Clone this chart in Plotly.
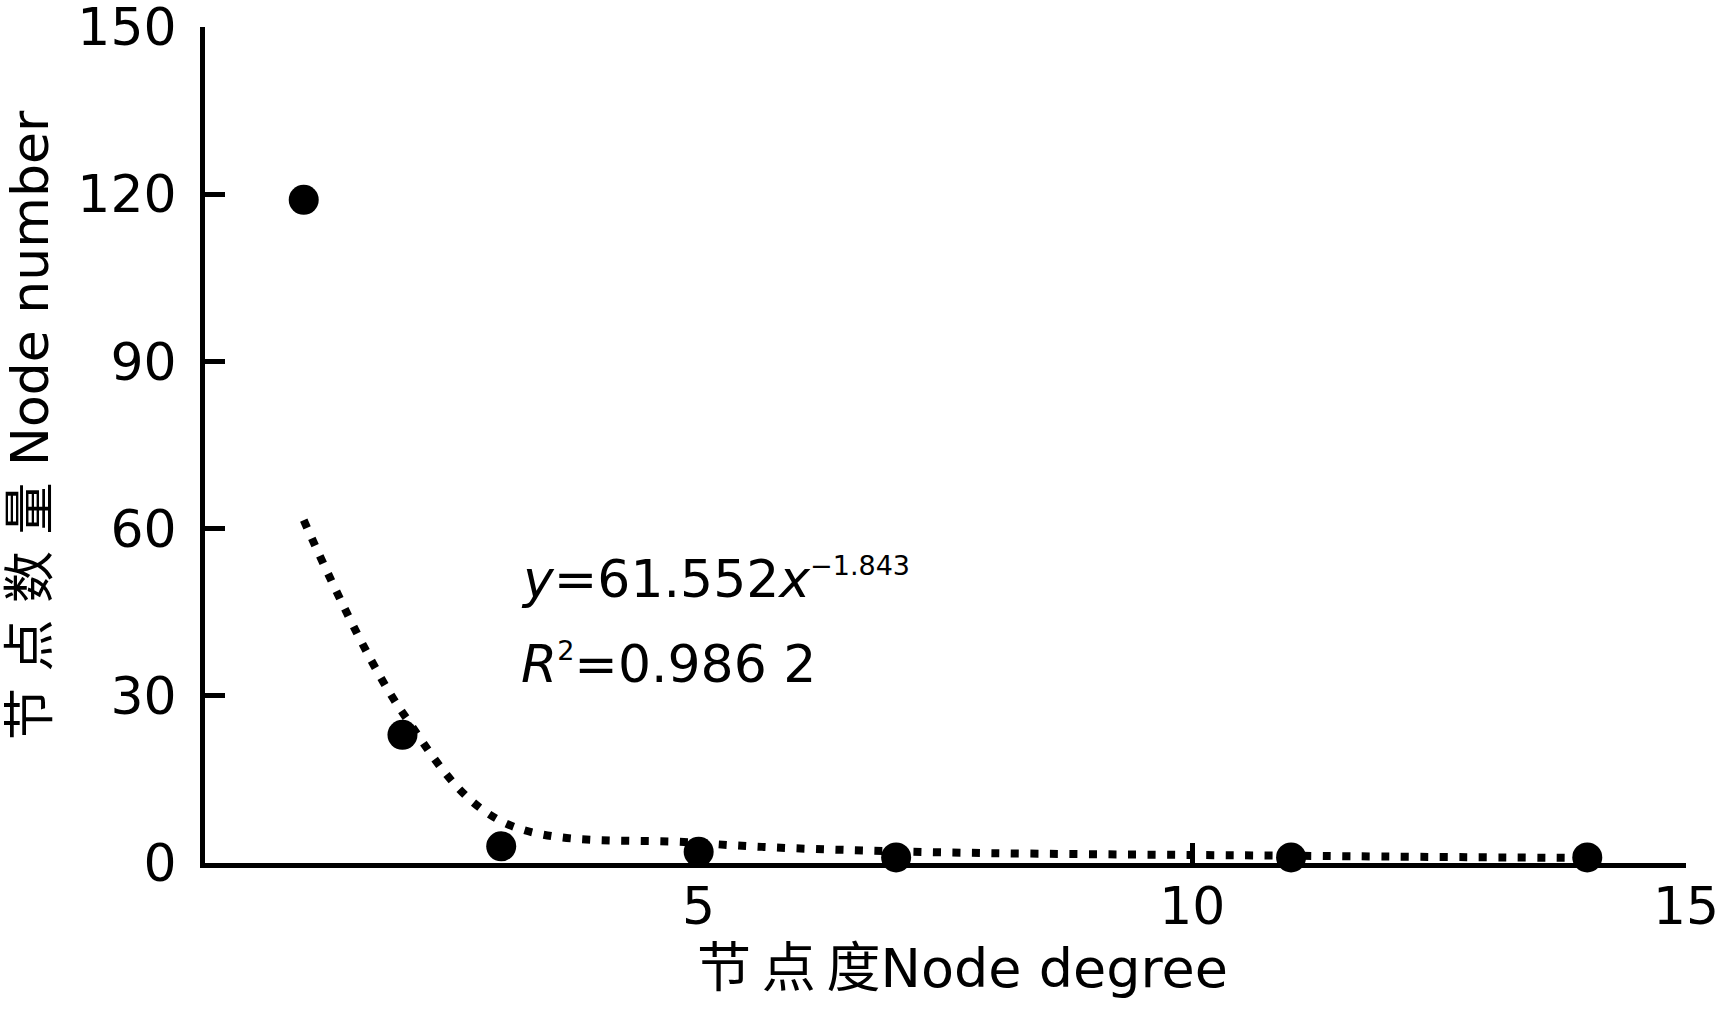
import plotly.graph_objects as go

# Data
degree = [1, 2, 3, 5, 7, 11, 14]
node_count = [119, 23, 3, 2, 1, 1, 1]
fit_values = [61.5, 27, 7.5, 3.6, 2.1, 1.3, 0.9]

x_ticks = [5, 10, 15]
y_ticks = [0, 30, 60, 90, 120, 150]

FONT = "DejaVu Sans, Noto Sans CJK SC, sans-serif"

W, H = 1722, 1027
L, R, T, B = 205, 36, 27, 164
PW, PH = W - L - R, H - T - B


def px_to_paper(px, py):
    """pixel position (from top-left of figure) -> paper coords"""
    return (px - L) / PW, (H - py - B) / PH


fig = go.Figure()
fig.add_trace(go.Scatter(
    x=degree, y=fit_values, mode="lines", line_shape="spline",
    line=dict(color="black", width=8, dash="8px,11.5px"),
    hoverinfo="skip", showlegend=False, cliponaxis=False))
fig.add_trace(go.Scatter(
    x=degree, y=node_count, mode="markers",
    marker=dict(color="black", size=30, line=dict(width=0)),
    showlegend=False, cliponaxis=False))

fig.add_annotation(
    x=3.18, y=51, xref="x", yref="y", xanchor="left", yanchor="middle",
    text="<i>y</i>=61.552<i>x</i><sup><span style='font-size:27px'>−1.843</span></sup>",
    showarrow=False, font=dict(family=FONT, size=52, color="black"))
fig.add_annotation(
    x=3.18, y=35.7, xref="x", yref="y", xanchor="left", yanchor="middle",
    text="<i>R</i><sup><span style='font-size:27px'>2</span></sup>=0.986 2",
    showarrow=False, font=dict(family=FONT, size=52, color="black"))

# Axis titles
xt = px_to_paper(962, 968)
fig.add_annotation(
    x=xt[0], y=xt[1], xref="paper", yref="paper", xanchor="center", yanchor="middle",
    text="节\u2009点\u2009度Node degree",
    showarrow=False, font=dict(family=FONT, size=54, color="black"))
yt = px_to_paper(30, 425)
fig.add_annotation(
    x=yt[0], y=yt[1], xref="paper", yref="paper", xanchor="center", yanchor="middle",
    text="节 点 数 量 Node number", textangle=-90,
    showarrow=False, font=dict(family=FONT, size=52, color="black"))

fig.update_layout(
    width=W, height=H,
    margin=dict(l=L, r=R, t=T, b=B, autoexpand=False),
    plot_bgcolor="white", paper_bgcolor="white",
    font=dict(family=FONT, size=52, color="black"),
    xaxis=dict(range=[0, 15], tickvals=x_ticks, ticktext=[str(v) for v in x_ticks],
               ticks="inside", ticklen=20, tickwidth=5, tickcolor="black",
               showline=True, linewidth=5, linecolor="black",
               showgrid=False, zeroline=False, ticklabelstandoff=-6,
               ticklabeloverflow="allow", automargin=False),
    yaxis=dict(range=[0, 150], tickvals=y_ticks, ticktext=[str(v) for v in y_ticks],
               ticks="inside", ticklen=20, tickwidth=5, tickcolor="black",
               showline=True, linewidth=5, linecolor="black",
               showgrid=False, zeroline=False, ticklabelstandoff=13,
               ticklabeloverflow="allow", automargin=False),
)

fig.write_html("out.html", config={"displayModeBar": False},
               post_script="document.body.style.margin='0';document.body.style.overflow='hidden';")
